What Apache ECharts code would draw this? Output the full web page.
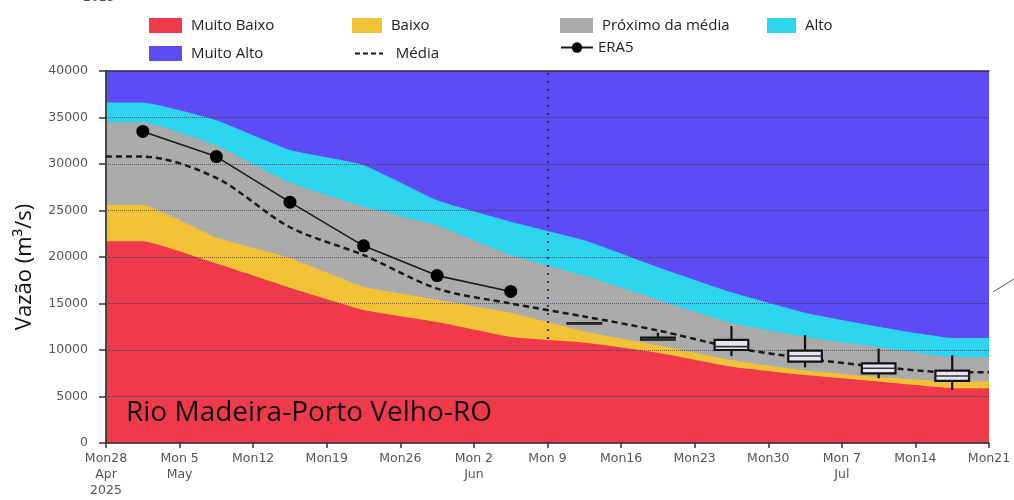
<!DOCTYPE html>
<html>
<head>
<meta charset="utf-8">
<script src="https://cdn.jsdelivr.net/npm/echarts@6/dist/echarts.min.js"></script>
<style>html,body{margin:0;padding:0;background:#fff}#c{width:1014px;height:500px}</style>
</head>
<body>
<div id="c"></div>
<script>
// Days since Mon 28 Apr 2025 (band edges + weekly forecast points)
const bandDays = [0, 3.5, 10.5, 17.5, 24.5, 31.5, 38.5, 45.5, 52.5, 59.5, 66.5, 73.5, 80.5, 84];
// Upper limits of each class (m3/s)
const muitoAltoTop = [40000, 40000, 40000, 40000, 40000, 40000, 40000, 40000, 40000, 40000, 40000, 40000, 40000, 40000];
const altoTop      = [36600, 36600, 34700, 31500, 29900, 26100, 23800, 21800, 18900, 16200, 14000, 12500, 11300, 11300];
const proximoTop   = [34500, 34500, 32000, 28000, 25400, 23400, 20200, 18000, 15400, 12900, 11400, 10300, 9250, 9250];
const baixoTop     = [25600, 25600, 22100, 19900, 16800, 15400, 14000, 12000, 10500, 8900, 7800, 7100, 6600, 6600];
const muitoBaixoTop= [21700, 21700, 19300, 16700, 14300, 13000, 11400, 10800, 9700, 8200, 7300, 6600, 5900, 5900];
const mediaValues  = [30800, 30800, 28500, 23200, 20200, 16600, 15000, 13600, 12100, 10300, 9100, 8200, 7600, 7600];

const era5Days   = [3.5, 10.5, 17.5, 24.5, 31.5, 38.5];
const era5Values = [33500, 30800, 25900, 21200, 18000, 16300];

const boxDays = [45.5, 52.5, 59.5, 66.5, 73.5, 80.5];
const boxMin  = [12820, 11050, 9350, 8140, 6950, 5700];
const boxQ1   = [12840, 11100, 10000, 8740, 7490, 6670];
const boxMed  = [12870, 11200, 10360, 9350, 8030, 7200];
const boxQ3   = [12900, 11320, 11080, 9930, 8570, 7780];
const boxMax  = [12920, 11860, 12580, 11610, 10140, 9430];

const forecastStartDay = 42;
const tickLabels = ["Mon28\nApr\n2025", "Mon 5\nMay", "Mon12", "Mon19", "Mon26", "Mon 2\nJun", "Mon 9",
                    "Mon16", "Mon23", "Mon30", "Mon 7\nJul", "Mon14", "Mon21"];
const yTicks = [0, 5000, 10000, 15000, 20000, 25000, 30000, 35000, 40000];

const C = {
  mb: '#EE3A4B', b: '#F2C236', p: '#ABABAB', a: '#2CD4EE', ma: '#5D4BF5'
};
const BOX_WIDTH_DAYS = 3.2;

const pairs = (xs, ys) => xs.map((x, i) => [x, ys[i]]);

function band(name, values, color, z) {
  return {
    name, type: 'line', data: pairs(bandDays, values), z,
    symbol: 'none', smooth: 0.12, lineStyle: { width: 0 },
    areaStyle: { color, opacity: 1, origin: 'start' },
    itemStyle: { color }, silent: true
  };
}

const chart = echarts.init(document.getElementById('c'), null, { renderer: 'canvas' });

const legendBase = {
  padding: 0, itemWidth: 33, itemHeight: 15,
  textStyle: { fontFamily: 'Open Sans', fontSize: 15, color: '#222' },
  selectedMode: false, formatter: n => ' ' + n
};
const dashIcon = 'path://M0,0h5v2h-5z M8,0h5v2h-5z M16,0h5v2h-5z M24,0h4v2h-4z';

const option = {
  animation: false,
  backgroundColor: '#fff',
  grid: { left: 106, right: 25, top: 71, bottom: 57 },
  legend: [
    Object.assign({}, legendBase, { data: [{ name: 'Muito Baixo', icon: 'rect' }], left: 149, top: 18 }),
    Object.assign({}, legendBase, { data: [{ name: 'Baixo', icon: 'rect' }], left: 352, top: 18, itemWidth: 30 }),
    Object.assign({}, legendBase, { data: [{ name: 'Próximo da média', icon: 'rect' }], left: 560, top: 18 }),
    Object.assign({}, legendBase, { data: [{ name: 'Alto', icon: 'rect' }], left: 767, top: 18, itemWidth: 29 }),
    Object.assign({}, legendBase, { data: [{ name: 'Muito Alto', icon: 'rect' }], left: 149, top: 46 }),
    Object.assign({}, legendBase, { data: [{ name: 'Média', icon: dashIcon }], left: 355, top: 46, itemWidth: 28, itemHeight: 3,
      formatter: n => '  ' + n, textStyle: { fontFamily: 'Open Sans', fontSize: 15, color: '#222', padding: [9, 0, 0, 0] } }),
    Object.assign({}, legendBase, { data: [{ name: 'ERA5' }], left: 560, top: 40, itemWidth: 32, itemHeight: 13,
      formatter: n => n })
  ],
  xAxis: [{
    type: 'value', min: 0, max: 84, interval: 7, z: 6,
    axisLine: { show: true, lineStyle: { color: '#333', width: 1.5 } },
    axisTick: { show: true, length: 5, lineStyle: { color: '#333', width: 1.5 } },
    splitLine: { show: false },
    axisLabel: {
      margin: 8, color: '#555', fontFamily: 'DejaVu Sans', fontSize: 12.5, lineHeight: 16,
      formatter: v => tickLabels[Math.round(v / 7)] || ''
    }
  }, {
    type: 'value', min: 0, max: 84, position: 'top', z: 6,
    axisLine: { show: true, onZero: false, lineStyle: { color: '#2f2a5a', width: 1.5 } },
    axisTick: { show: false }, axisLabel: { show: false }, splitLine: { show: false }
  }],
  yAxis: [{
    type: 'value', min: 0, max: 40000, interval: 5000, z: 6,
    axisLine: { show: true, lineStyle: { color: '#333', width: 1.5 } },
    axisTick: { show: true, length: 7, lineStyle: { color: '#333', width: 1.5 } },
    axisLabel: { margin: 18, color: '#555', fontFamily: 'DejaVu Sans', fontSize: 12.5,
      formatter: v => yTicks.includes(v) ? String(v) : '' },
    splitLine: { show: true, lineStyle: { color: 'rgba(40,30,60,0.6)', type: 'dotted', width: 1 } }
  }, {
    type: 'value', min: 0, max: 40000, position: 'right', z: 6,
    axisLine: { show: true, lineStyle: { color: '#444', width: 1.5 } },
    axisTick: { show: false }, axisLabel: { show: false }, splitLine: { show: false }
  }],
  series: [
    band('Muito Alto', muitoAltoTop, C.ma, 1),
    band('Alto', altoTop, C.a, 2),
    band('Próximo da média', proximoTop, C.p, 3),
    band('Baixo', baixoTop, C.b, 4),
    band('Muito Baixo', muitoBaixoTop, C.mb, 5),
    {
      name: 'Média', type: 'line', data: pairs(bandDays, mediaValues), z: 7,
      symbol: 'none', smooth: 0.3,
      lineStyle: { color: '#1a1a1a', width: 2.5, type: [6, 4] },
      itemStyle: { color: '#1a1a1a' },
      markLine: {
        silent: true, symbol: 'none', label: { show: false },
        lineStyle: { color: 'rgba(45,35,90,0.85)', type: [2, 6], width: 2.2 },
        data: [{ xAxis: forecastStartDay }]
      }
    },
    {
      name: 'ERA5', type: 'line', data: pairs(era5Days, era5Values), z: 8,
      symbol: 'circle', symbolSize: 13, showSymbol: true,
      lineStyle: { color: '#1a1a1a', width: 1.6 },
      itemStyle: { color: '#000' }
    },
    {
      name: 'Previsão', type: 'custom', z: 9,
      data: boxDays.map((d, i) => [d, boxMin[i], boxQ1[i], boxMed[i], boxQ3[i], boxMax[i]]),
      encode: { x: 0, y: [1, 2, 3, 4, 5] },
      renderItem: (params, api) => {
        const x = api.value(0);
        const lo = api.coord([x, api.value(1)]);
        const q1 = api.coord([x, api.value(2)]);
        const md = api.coord([x, api.value(3)]);
        const q3 = api.coord([x, api.value(4)]);
        const hi = api.coord([x, api.value(5)]);
        const w = api.size([BOX_WIDTH_DAYS, 0])[0];
        const cx = lo[0];
        const stroke = { stroke: '#111', lineWidth: 2.2 };
        return {
          type: 'group', children: [
            { type: 'line', shape: { x1: cx, y1: hi[1], x2: cx, y2: q3[1] }, style: stroke },
            { type: 'line', shape: { x1: cx, y1: q1[1], x2: cx, y2: lo[1] }, style: stroke },
            { type: 'rect', shape: { x: cx - w / 2, y: q3[1], width: w, height: Math.max(q1[1] - q3[1], 0.5) },
              style: { fill: '#e6e6f4', stroke: '#111', lineWidth: 2.2 } },
            { type: 'line', shape: { x1: cx - w / 2, y1: md[1], x2: cx + w / 2, y2: md[1] },
              style: { stroke: '#333', lineWidth: 1.6 } }
          ]
        };
      }
    }
  ],
  graphic: [
    { type: 'text', left: 126, top: 399, z: 100,
      style: { text: 'Rio Madeira-Porto Velho-RO', font: '28px "Open Sans"', fill: '#111' } },
    { type: 'text', x: 25, y: 267, rotation: Math.PI / 2, z: 100,
      style: { text: 'Vazão (m³/s)', font: '22px "Open Sans"', fill: '#111', align: 'center', verticalAlign: 'middle' } },
    { type: 'text', x: 83, y: 4, z: 100,
      style: { text: '2025', font: '12.5px "DejaVu Sans"', fill: '#555', verticalAlign: 'bottom' } },
    { type: 'line', z: 100, shape: { x1: 993, y1: 292, x2: 1014, y2: 279 },
      style: { stroke: '#555', lineWidth: 1 } }
  ]
};
chart.setOption(option);
</script>
</body>
</html>
